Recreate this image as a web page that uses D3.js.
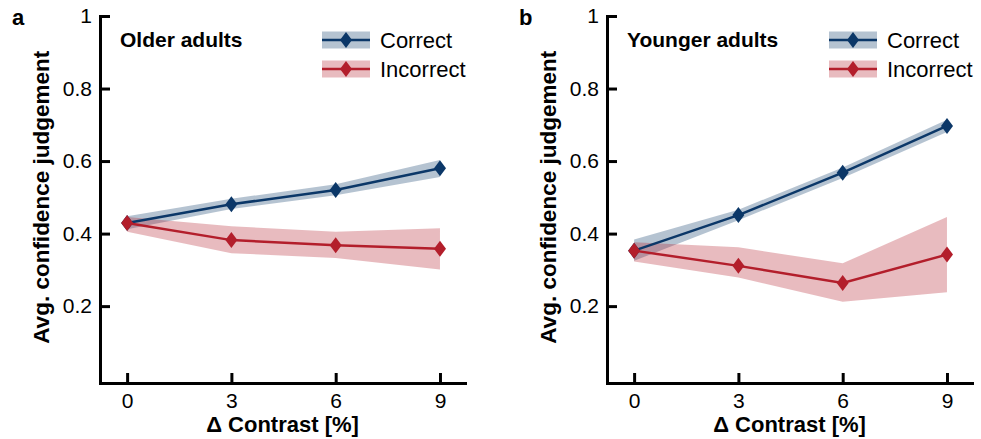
<!DOCTYPE html>
<html>
<head>
<meta charset="utf-8">
<script src="https://cdn.jsdelivr.net/npm/d3@7"></script>
<style>
  body { margin: 0; background: #fff; }
  svg { font-family: "Liberation Sans", Arial, sans-serif; }
</style>
</head>
<body>
<svg width="981" height="439"></svg>
<script>
var contrast = [0, 3, 6, 9]
var yTicks = [0.2, 0.4, 0.6, 0.8, 1]

var olderCorrect = [0.429, 0.481, 0.520, 0.580]
var olderCorrectLo = [0.412, 0.468, 0.506, 0.556]
var olderCorrectHi = [0.448, 0.496, 0.536, 0.603]
var olderIncorrect = [0.429, 0.382, 0.368, 0.358]
var olderIncorrectLo = [0.405, 0.346, 0.333, 0.301]
var olderIncorrectHi = [0.446, 0.420, 0.405, 0.415]

var youngerCorrect = [0.353, 0.451, 0.568, 0.697]
var youngerCorrectLo = [0.325, 0.437, 0.553, 0.680]
var youngerCorrectHi = [0.384, 0.466, 0.582, 0.714]
var youngerIncorrect = [0.353, 0.311, 0.264, 0.342]
var youngerIncorrectLo = [0.323, 0.279, 0.212, 0.238]
var youngerIncorrectHi = [0.376, 0.362, 0.318, 0.446]

var navy = '#0b3768'
var red = '#b31e2b'

var panels = [
    { letter: 'a', title: 'Older adults', left: 100,
      series: [
        { name: 'Correct', color: navy, mean: olderCorrect, lo: olderCorrectLo, hi: olderCorrectHi },
        { name: 'Incorrect', color: red, mean: olderIncorrect, lo: olderIncorrectLo, hi: olderIncorrectHi }
      ] },
    { letter: 'b', title: 'Younger adults', left: 607,
      series: [
        { name: 'Correct', color: navy, mean: youngerCorrect, lo: youngerCorrectLo, hi: youngerCorrectHi },
        { name: 'Incorrect', color: red, mean: youngerIncorrect, lo: youngerIncorrectLo, hi: youngerIncorrectHi }
      ] }
]

var width = 365
var x = d3.scaleLinear().domain([-0.78, 9.72]).range([0, width])
var y = d3.scaleLinear().domain([-0.012, 1]).range([383, 16])

// diamond marker, taller than wide
function diamond(cx, cy) {
    return 'M' + cx + ',' + (cy - 8) + 'L' + (cx + 6) + ',' + cy +
           'L' + cx + ',' + (cy + 8) + 'L' + (cx - 6) + ',' + cy + 'Z'
}

var svg = d3.select('svg')

panels.forEach(function(p) {
    var g = svg.append('g').attr('transform', 'translate(' + p.left + ',0)')

    // bands
    p.series.forEach(function(s) {
        var area = d3.area()
            .x(function(d, i){ return x(contrast[i]) })
            .y0(function(d, i){ return y(s.lo[i]) })
            .y1(function(d, i){ return y(s.hi[i]) })
        g.append('path')
            .datum(s.mean)
            .attr('d', area)
            .attr('fill', s.color)
            .attr('fill-opacity', 0.3)
    })

    // lines + markers
    p.series.forEach(function(s) {
        var line = d3.line()
            .x(function(d, i){ return x(contrast[i]) })
            .y(function(d){ return y(d) })
        g.append('path')
            .datum(s.mean)
            .attr('d', line)
            .attr('fill', 'none')
            .attr('stroke', s.color)
            .attr('stroke-width', 2.5)
        g.selectAll(null)
            .data(s.mean)
            .enter()
            .append('path')
            .attr('d', function(d, i){ return diamond(x(contrast[i]), y(d)) })
            .attr('fill', s.color)
    })

    // axes
    var yAxis = d3.axisLeft(y)
        .tickValues(yTicks)
        .tickFormat(d3.format('~g'))
        .tickSizeInner(-10)
        .tickSizeOuter(0)
        .tickPadding(8)
    var xAxis = d3.axisBottom(x)
        .tickValues(contrast)
        .tickSizeInner(-10)
        .tickSizeOuter(0)
        .tickPadding(10)

    var ya = g.append('g').call(yAxis)
    var xa = g.append('g').attr('transform', 'translate(0,383)').call(xAxis)
    ;[ya, xa].forEach(function(a) {
        a.selectAll('path, line').attr('stroke', '#000').attr('stroke-width', 3)
        a.select('.domain').attr('stroke-linecap', 'square')
        a.selectAll('text').attr('fill', '#000').style('font-size', '21px')
            .style('font-family', '"Liberation Sans", Arial, sans-serif')
    })
    xa.selectAll('text').attr('dy', '0.71em')

    // axis titles
    g.append('text')
        .attr('transform', 'translate(-51,' + y(0.5) + ') rotate(-90)')
        .attr('text-anchor', 'middle')
        .style('font-size', '22.5px')
        .style('font-weight', 'bold')
        .text('Avg. confidence judgement')
    g.append('text')
        .attr('x', width / 2)
        .attr('y', 432)
        .attr('text-anchor', 'middle')
        .style('font-size', '22px')
        .style('font-weight', 'bold')
        .text('\u0394 Contrast [%]')

    // panel letter and title
    g.append('text')
        .attr('x', -88)
        .attr('y', 25)
        .style('font-size', '22px')
        .style('font-weight', 'bold')
        .text(p.letter)
    g.append('text')
        .attr('x', 20)
        .attr('y', 47)
        .style('font-size', '21px')
        .style('font-weight', 'bold')
        .text(p.title)

    // legend
    p.series.forEach(function(s, i) {
        var cy = 40 + i * 29
        g.append('rect')
            .attr('x', 222).attr('y', cy - 8.5)
            .attr('width', 48).attr('height', 17)
            .attr('fill', s.color).attr('fill-opacity', 0.3)
        g.append('line')
            .attr('x1', 222).attr('x2', 270)
            .attr('y1', cy).attr('y2', cy)
            .attr('stroke', s.color).attr('stroke-width', 2.5)
        g.append('path')
            .attr('d', diamond(246, cy))
            .attr('fill', s.color)
        g.append('text')
            .attr('x', 280).attr('y', cy + 8)
            .style('font-size', '22px')
            .text(s.name)
    })
})
</script>
</body>
</html>
